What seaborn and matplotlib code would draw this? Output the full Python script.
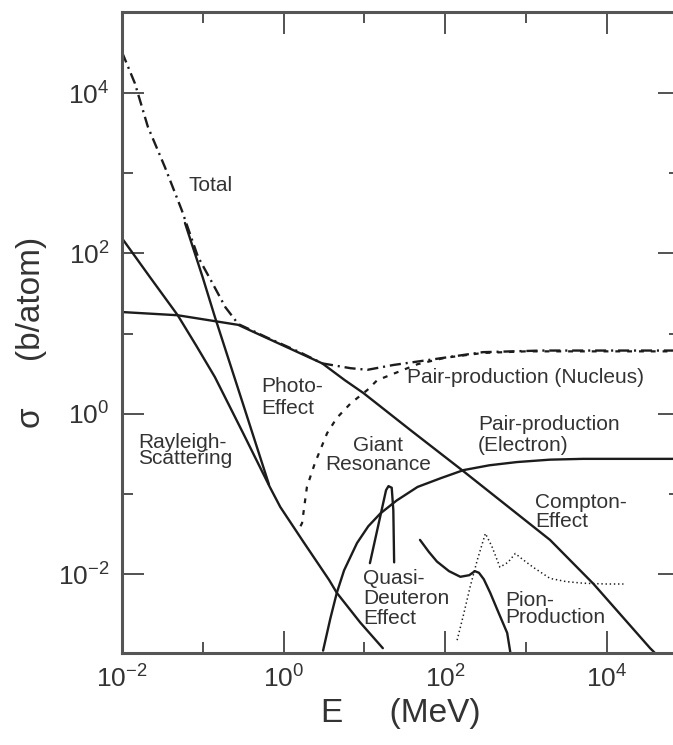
import numpy as np
import matplotlib
matplotlib.use('Agg')
import matplotlib.pyplot as plt
import matplotlib.ticker as mticker
import seaborn as sns

# values, as log10(E / MeV) and log10(sigma / b)
total_logE = [-2.0, -1.84, -1.68, -1.47, -1.26, -1.06, -0.88, -0.72, -0.56, -0.41, -0.2, 0.2, 0.48,
              0.83, 1.04, 1.36, 1.78, 2.47, 3.2, 4.0, 4.91]
total_logS = [4.51, 4.12, 3.58, 3.08, 2.54, 1.96, 1.63, 1.33, 1.12, 1.05, 0.95, 0.77, 0.63,
              0.57, 0.55, 0.61, 0.67, 0.77, 0.79, 0.79, 0.79]

compton_logE = [-2.0, -1.31, -0.56, -0.41, 0.48, 0.76, 0.99, 1.57, 2.21, 3.30, 3.84, 4.54, 4.62]
compton_logS = [1.27, 1.23, 1.11, 1.04, 0.63, 0.42, 0.26, -0.20, -0.70, -1.57, -2.12, -2.92, -3.0]

rayleigh_logE = [-2.0, -1.65, -1.31, -1.08, -0.85, -0.5, -0.17, -0.04, 0.25, 0.565, 0.66, 0.95, 1.23]
rayleigh_logS = [2.19, 1.70, 1.23, 0.85, 0.46, -0.24, -0.91, -1.16, -1.60, -2.07, -2.23, -2.60, -2.92]

photo_logE = [-1.22, -1.0, -0.85, -0.5, -0.18]
photo_logS = [2.38, 1.70, 1.21, 0.12, -0.88]

pair_nuc_logE = [0.21, 0.23, 0.29, 0.39, 0.54, 0.66, 0.83, 1.04, 1.16, 1.41, 1.66, 2.0, 2.47, 3.0, 4.0, 4.91]
pair_nuc_logS = [-1.40, -1.36, -0.91, -0.61, -0.24, -0.05, 0.13, 0.30, 0.42, 0.52, 0.62, 0.70, 0.76,
                 0.78, 0.78, 0.78]

pair_el_logE = [0.49, 0.58, 0.66, 0.75, 0.91, 1.05, 1.20, 1.40, 1.66, 1.95, 2.23, 2.55, 2.89, 3.3,
                3.71, 4.2, 4.91]
pair_el_logS = [-2.95, -2.55, -2.23, -1.95, -1.61, -1.40, -1.24, -1.08, -0.91, -0.80, -0.70, -0.64,
                -0.60, -0.57, -0.56, -0.56, -0.56]

giant_logE = [1.07, 1.27, 1.30, 1.34, 1.36, 1.37]
giant_logS = [-1.86, -0.95, -0.90, -0.92, -1.20, -1.85]

quasi_pion_logE = [1.69, 1.80, 1.90, 2.05, 2.19, 2.30, 2.37, 2.42, 2.48, 2.56, 2.66, 2.77, 2.81]
quasi_pion_logS = [-1.57, -1.72, -1.84, -1.96, -2.03, -2.01, -1.96, -1.98, -2.06, -2.23, -2.47, -2.73, -2.98]

pion_logE = [2.15, 2.23, 2.31, 2.40, 2.50, 2.58, 2.68, 2.78, 2.87, 2.97, 3.09, 3.30, 3.50, 3.71, 4.0, 4.21]
pion_logS = [-2.82, -2.50, -2.16, -1.82, -1.49, -1.65, -1.91, -1.85, -1.74, -1.82, -1.91, -2.05, -2.09,
             -2.11, -2.12, -2.12]

label_texts = ['Total', 'Photo-\nEffect', 'Rayleigh-\nScattering', 'Giant\nResonance',
               'Pair-production (Nucleus)', 'Pair-production\n(Electron)', 'Compton-\nEffect',
               'Quasi-\nDeuteron\nEffect', 'Pion-\nProduction']
label_logE = [-1.18, -0.27, -1.80, 1.17, 1.53, 2.41, 3.12, 0.99, 2.75]
label_logS = [2.85, 0.21, -0.45, -0.51, 0.45, -0.26, -1.22, -2.30, -2.43]
label_ha = ['left', 'left', 'left', 'center', 'left', 'left', 'left', 'left', 'left']
label_spacing = [1.2, 1.2, 0.8, 1.0, 1.2, 1.1, 1.0, 1.05, 0.9]

sns.set_style('ticks')
plt.rcParams['font.family'] = ['Liberation Sans', 'DejaVu Sans']
plt.rcParams['mathtext.default'] = 'regular'
plt.rcParams['axes.unicode_minus'] = False
plt.rcParams['lines.scale_dashes'] = False

ink = '#1c1c1c'
txt = '#333333'

fig = plt.figure(figsize=(6.73, 7.45), dpi=100)
ax = fig.add_axes([122 / 673, 1 - 653 / 745, (680 - 122) / 673, (653 - 12) / 745])
ax.set_xscale('log')
ax.set_yscale('log')


def curve(logE, logS, **kw):
    sns.lineplot(x=10 ** np.array(logE), y=10 ** np.array(logS), ax=ax, color=ink,
                 sort=False, estimator=None, legend=False, **kw)


curve(compton_logE, compton_logS, lw=1.7)
curve(rayleigh_logE, rayleigh_logS, lw=1.7)
curve(photo_logE, photo_logS, lw=1.7)
curve(pair_el_logE, pair_el_logS, lw=1.7)
curve(giant_logE, giant_logS, lw=1.7)
curve(quasi_pion_logE, quasi_pion_logS, lw=1.7)
curve(pair_nuc_logE, pair_nuc_logS, lw=1.6, linestyle=(0, (3.5, 5)))
curve(pion_logE, pion_logS, lw=1.1, linestyle=(0, (1, 2)))
curve(total_logE, total_logS, lw=1.7, linestyle=(0, (8, 3.5, 1.5, 3.5)))

for t, lx, ly, ha, sp in zip(label_texts, label_logE, label_logS, label_ha, label_spacing):
    ax.text(10 ** lx, 10 ** ly, t, ha=ha, va='center', fontsize=15, color=txt,
            linespacing=sp, multialignment=ha)

ax.set_xlim(1e-2, 10 ** 4.91)
ax.set_ylim(10 ** -2.98, 10 ** 5.01)

even = [1e-2, 1e0, 1e2, 1e4]
odd = [1e-1, 1e1, 1e3]
fmt = mticker.FuncFormatter(lambda v, p: '$10^{%d}$' % int(round(np.log10(v))))
for a in (ax.xaxis, ax.yaxis):
    a.set_major_locator(mticker.FixedLocator(even))
    a.set_minor_locator(mticker.FixedLocator(odd))
    a.set_major_formatter(fmt)
    a.set_minor_formatter(mticker.NullFormatter())

ax.tick_params(which='major', direction='in', length=16, width=1.3, color='#444444',
               top=True, right=True, labelsize=19, labelcolor=txt, pad=9)
ax.tick_params(which='minor', direction='in', length=8, width=1.3, color='#444444',
               top=True, right=True)
for s in ax.spines.values():
    s.set_linewidth(2.2)
    s.set_color('#555555')

ax.set_xlabel('E     (MeV)', fontsize=24, color=txt, labelpad=4)
ax.set_ylabel('σ     (b/atom)', fontsize=24, color=txt, labelpad=8)

fig.savefig('out.png', dpi=100)
